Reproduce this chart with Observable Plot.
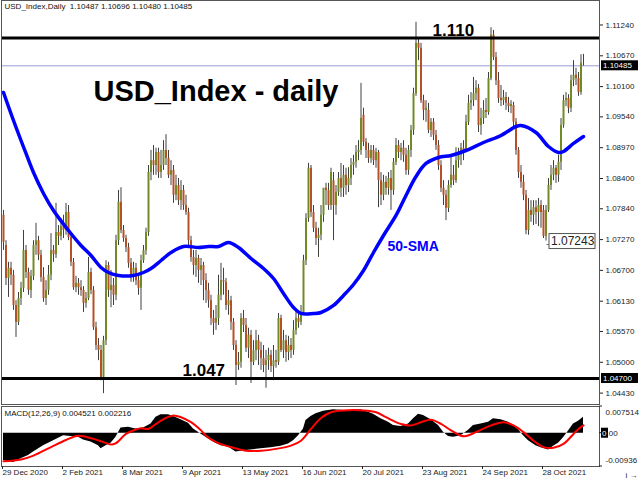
<!DOCTYPE html>
<html><head><meta charset="utf-8">
<script src="https://cdn.jsdelivr.net/npm/d3@7"></script>
<script src="https://cdn.jsdelivr.net/npm/@observablehq/plot@0.6"></script>
<style>
html,body{margin:0;padding:0;background:#fff;}
#chart{width:640px;height:480px;position:relative;overflow:hidden;background:#fff;}
#chart svg{display:block;}
</style></head><body><div id="chart"></div>
<script>
// ---- price data (daily bars, index 0 = 29 Dec 2020) ----
const openP = [1.0772,1.0716,1.0655,1.0674,1.0661,1.0605,1.0574,1.0618,1.0637,1.0707,
1.0666,1.0633,1.0659,1.0716,1.0725,1.0698,1.0657,1.0618,1.0633,1.0661,
1.0707,1.0699,1.0740,1.0733,1.0751,1.0744,1.0777,1.0731,1.0685,1.0638,
1.0646,1.0638,1.0633,1.0609,1.0618,1.0666,1.0633,1.0564,1.0531,1.0522,
1.0472,1.0540,1.0679,1.0633,1.0642,1.0624,1.0725,1.0796,1.0744,1.0729,
1.0712,1.0683,1.0661,1.0674,1.0651,1.0637,1.0688,1.0707,1.0740,1.0851,
1.0873,1.0864,1.0888,1.0851,1.0864,1.0892,1.0877,1.0846,1.0855,1.0809,
1.0827,1.0799,1.0818,1.0790,1.0777,1.0725,1.0694,1.0679,1.0692,1.0670,
1.0679,1.0651,1.0633,1.0614,1.0581,1.0572,1.0581,1.0624,1.0651,1.0648,
1.0605,1.0614,1.0574,1.0531,1.0494,1.0500,1.0581,1.0568,1.0526,1.0550,
1.0500,1.0522,1.0540,1.0522,1.0507,1.0494,1.0503,1.0513,1.0492,1.0503,
1.0500,1.0581,1.0522,1.0540,1.0518,1.0531,1.0522,1.0559,1.0581,1.0574,
1.0592,1.0688,1.0766,1.0859,1.0777,1.0748,1.0729,1.0735,1.0772,1.0822,
1.0818,1.0790,1.0836,1.0790,1.0814,1.0840,1.0822,1.0846,1.0827,1.0840,
1.0864,1.0870,1.0888,1.0892,1.0957,1.0907,1.0892,1.0877,1.0892,1.0873,
1.0888,1.0836,1.0809,1.0833,1.0822,1.0840,1.0818,1.0870,1.0901,1.0888,
1.0896,1.0883,1.0855,1.0892,1.0929,1.0997,1.1090,1.1081,1.0984,1.0966,
1.0966,1.0929,1.0944,1.0920,1.0901,1.0864,1.0822,1.0809,1.0785,1.0827,
1.0846,1.0836,1.0873,1.0883,1.0896,1.0892,1.0944,1.0979,1.0984,1.0997,
1.1007,1.0938,1.0951,1.0966,1.0962,1.1025,1.1105,1.1064,1.1021,1.0988,
1.0984,1.0990,1.0979,1.0973,1.0975,1.0944,1.0892,1.0851,1.0833,1.0809,
1.0744,1.0781,1.0772,1.0786,1.0777,1.0790,1.0781,1.0733,1.0781,1.0827,
1.0846,1.0859,1.0846,1.0870,1.0938,1.0984,1.0988,1.0970,1.1021,1.1031,
1.1025,1.0999,1.10487];
const highP = [1.0781,1.0725,1.0685,1.0685,1.0670,1.0614,1.0629,1.0648,1.0744,1.0716,
1.0674,1.0670,1.0725,1.0757,1.0733,1.0707,1.0675,1.0651,1.0679,1.0738,
1.0716,1.0794,1.0753,1.0766,1.0772,1.0794,1.0790,1.0740,1.0692,1.0659,
1.0655,1.0651,1.0640,1.0629,1.0694,1.0674,1.0640,1.0574,1.0544,1.0531,
1.0548,1.0688,1.0685,1.0670,1.0655,1.0735,1.0818,1.0823,1.0753,1.0735,
1.0720,1.0692,1.0685,1.0683,1.0661,1.0698,1.0716,1.0748,1.0864,1.0892,
1.0901,1.0896,1.0896,1.0892,1.0910,1.0921,1.0892,1.0873,1.0864,1.0846,
1.0840,1.0836,1.0827,1.0809,1.0785,1.0733,1.0707,1.0707,1.0698,1.0692,
1.0685,1.0664,1.0646,1.0624,1.0596,1.0605,1.0661,1.0683,1.0674,1.0655,
1.0633,1.0622,1.0581,1.0540,1.0518,1.0590,1.0596,1.0581,1.0563,1.0559,
1.0540,1.0559,1.0550,1.0537,1.0531,1.0522,1.0526,1.0522,1.0531,1.0522,
1.0590,1.0587,1.0559,1.0550,1.0548,1.0544,1.0577,1.0596,1.0596,1.0605,
1.0698,1.0775,1.0868,1.0864,1.0790,1.0759,1.0748,1.0790,1.0812,1.0831,
1.0831,1.0859,1.0851,1.0827,1.0851,1.0868,1.0864,1.0859,1.0860,1.0877,
1.0883,1.0901,1.0910,1.1016,1.0970,1.0914,1.0905,1.0901,1.0901,1.0896,
1.0892,1.0851,1.0846,1.0844,1.0851,1.0855,1.0877,1.0914,1.0910,1.0905,
1.0910,1.0896,1.0901,1.0938,1.1007,1.1129,1.1099,1.1090,1.0994,1.0984,
1.0979,1.0951,1.0951,1.0929,1.0910,1.0873,1.0836,1.0818,1.0836,1.0879,
1.0864,1.0897,1.0896,1.0905,1.0910,1.0957,1.0994,1.0999,1.1027,1.1021,
1.1014,1.0970,1.0984,1.0988,1.1036,1.1119,1.1114,1.1073,1.1036,1.1012,
1.1003,1.0999,1.0990,1.0984,1.0981,1.0951,1.0897,1.0864,1.0846,1.0818,
1.0803,1.0799,1.0799,1.0799,1.0803,1.0799,1.0790,1.0790,1.0840,1.0864,
1.0873,1.0864,1.0883,1.0951,1.0994,1.0999,1.0995,1.1031,1.1058,1.1044,
1.1036,1.1069,1.10696];
const lowP = [1.0707,1.0642,1.0620,1.0642,1.0596,1.0546,1.0568,1.0605,1.0629,1.0655,
1.0624,1.0618,1.0651,1.0698,1.0688,1.0648,1.0611,1.0605,1.0624,1.0651,
1.0685,1.0692,1.0716,1.0725,1.0729,1.0735,1.0725,1.0677,1.0633,1.0629,
1.0624,1.0622,1.0592,1.0600,1.0614,1.0625,1.0559,1.0522,1.0503,1.0466,
1.0442,1.0531,1.0620,1.0601,1.0605,1.0614,1.0716,1.0738,1.0722,1.0703,
1.0674,1.0648,1.0648,1.0642,1.0624,1.0596,1.0683,1.0698,1.0733,1.0836,
1.0846,1.0846,1.0840,1.0840,1.0855,1.0864,1.0840,1.0827,1.0794,1.0799,
1.0790,1.0781,1.0781,1.0772,1.0716,1.0685,1.0661,1.0657,1.0646,1.0642,
1.0614,1.0609,1.0600,1.0568,1.0550,1.0559,1.0568,1.0614,1.0624,1.0596,
1.0587,1.0559,1.0522,1.0457,1.0485,1.0489,1.0555,1.0518,1.0507,1.0461,
1.0494,1.0503,1.0494,1.0485,1.0481,1.0452,1.0485,1.0481,1.0466,1.0489,
1.0494,1.0518,1.0507,1.0500,1.0503,1.0507,1.0513,1.0550,1.0563,1.0568,
1.0587,1.0679,1.0759,1.0768,1.0740,1.0716,1.0694,1.0725,1.0759,1.0790,
1.0781,1.0781,1.0725,1.0772,1.0807,1.0805,1.0805,1.0809,1.0814,1.0827,
1.0846,1.0859,1.0873,1.0883,1.0899,1.0877,1.0868,1.0868,1.0864,1.0859,
1.0786,1.0790,1.0799,1.0809,1.0809,1.0781,1.0809,1.0864,1.0877,1.0873,
1.0870,1.0846,1.0846,1.0879,1.0920,1.0992,1.1058,1.0979,1.0947,1.0944,
1.0923,1.0916,1.0910,1.0892,1.0855,1.0814,1.0790,1.0762,1.0777,1.0822,
1.0827,1.0831,1.0859,1.0864,1.0873,1.0888,1.0938,1.0966,1.0973,1.0984,
1.0925,1.0920,1.0940,1.0951,1.0957,1.1021,1.1058,1.1012,1.0979,1.0973,
1.0975,1.0966,1.0962,1.0960,1.0936,1.0883,1.0840,1.0822,1.0799,1.0736,
1.0735,1.0759,1.0753,1.0755,1.0751,1.0748,1.0729,1.07243,1.0777,1.0818,
1.0836,1.0831,1.0833,1.0855,1.0933,1.0973,1.0960,1.0962,1.1010,1.1012,
1.0992,1.0994,1.10480];
const closeP = [1.0722,1.0655,1.0674,1.0661,1.0605,1.0574,1.0618,1.0637,1.0707,1.0666,
1.0633,1.0659,1.0716,1.0725,1.0698,1.0657,1.0618,1.0633,1.0661,1.0707,
1.0699,1.0740,1.0733,1.0751,1.0744,1.0777,1.0731,1.0685,1.0638,1.0646,
1.0638,1.0633,1.0609,1.0618,1.0666,1.0633,1.0564,1.0531,1.0522,1.0472,
1.0540,1.0679,1.0633,1.0642,1.0624,1.0725,1.0796,1.0744,1.0729,1.0712,
1.0683,1.0661,1.0674,1.0651,1.0637,1.0688,1.0707,1.0740,1.0851,1.0873,
1.0864,1.0888,1.0851,1.0864,1.0892,1.0877,1.0846,1.0855,1.0809,1.0827,
1.0799,1.0818,1.0790,1.0777,1.0725,1.0694,1.0679,1.0692,1.0670,1.0679,
1.0651,1.0633,1.0614,1.0581,1.0572,1.0581,1.0624,1.0651,1.0648,1.0605,
1.0614,1.0574,1.0531,1.0494,1.0500,1.0581,1.0568,1.0526,1.0550,1.0500,
1.0522,1.0540,1.0522,1.0507,1.0494,1.0503,1.0513,1.0492,1.0503,1.0500,
1.0581,1.0522,1.0540,1.0518,1.0531,1.0522,1.0559,1.0581,1.0574,1.0592,
1.0688,1.0766,1.0859,1.0777,1.0748,1.0729,1.0735,1.0772,1.0822,1.0818,
1.0790,1.0851,1.0790,1.0814,1.0840,1.0822,1.0846,1.0827,1.0840,1.0864,
1.0870,1.0888,1.0892,1.0951,1.0907,1.0892,1.0877,1.0892,1.0873,1.0888,
1.0836,1.0809,1.0833,1.0822,1.0840,1.0818,1.0870,1.0901,1.0888,1.0896,
1.0883,1.0855,1.0892,1.0929,1.0997,1.1090,1.1081,1.0984,1.0966,1.0970,
1.0929,1.0944,1.0920,1.0901,1.0864,1.0822,1.0809,1.0785,1.0827,1.0846,
1.0836,1.0873,1.0883,1.0896,1.0892,1.0944,1.0979,1.0984,1.0997,1.1007,
1.0938,1.0951,1.0966,1.0962,1.1025,1.1105,1.1064,1.1021,1.0988,1.0984,
1.0990,1.0979,1.0973,1.0977,1.0944,1.0892,1.0851,1.0833,1.0809,1.0744,
1.0781,1.0772,1.0786,1.0777,1.0790,1.0777,1.0733,1.0781,1.0827,1.0846,
1.0859,1.0846,1.0870,1.0938,1.0984,1.0988,1.0970,1.1021,1.1031,1.1025,
1.0999,1.1053,1.10485];

// 50-period SMA, read at bar indices
const smaIdx = [0,4,9,12,16,20,26,31,35,39,42,46,52,56,59,63,67,72,78,82,86,90,94,99,104,108,112,116,119,124,127,132,136,140,144,148,152,157,161,165,169,174,179,185,192,199,205,207,213,218,222,224,228,232];
const smaVal = [1.09991,1.09473,1.08863,1.08511,1.08123,1.07808,1.07438,1.07161,1.06976,1.06754,1.06661,1.06606,1.06606,1.06661,1.06735,1.06883,1.07031,1.07142,1.07124,1.07142,1.07142,1.07216,1.07124,1.06920,1.06735,1.06550,1.06273,1.06014,1.05903,1.05903,1.05921,1.06051,1.06236,1.06439,1.06698,1.07031,1.07346,1.07716,1.08086,1.08437,1.08678,1.08789,1.08826,1.08918,1.09066,1.09196,1.09362,1.09381,1.09251,1.08992,1.08881,1.08900,1.09048,1.09177];

// MACD(12,26,9): main (histogram) and signal, read at bar indices
const histIdx = [0,4,7,10,12,16,20,24,27,30,32,35,38,39,41,43,45,47,50,53,56,59,61,63,66,68,71,74,76,79,82,84,87,90,93,96,99,103,107,111,114,116,118,120,121,123,125,128,132,136,140,143,146,148,151,154,156,159,162,164,166,168,171,174,176,178,180,183,186,188,191,194,196,199,202,204,206,208,210,213,215,218,220,222,224,226,228,230,232];
const histVal = [-0.0077,-0.0082,-0.0072,-0.0063,-0.0053,-0.0035,-0.0021,-0.0007,-0.0009,-0.0011,-0.0019,-0.0025,-0.0035,-0.0044,-0.0035,-0.0028,-0.0011,0.0015,0.0017,0.0012,0.0015,0.0026,0.0045,0.0052,0.0052,0.0047,0.0038,0.0028,0.0012,-0.0002,-0.0016,-0.0025,-0.0035,-0.0039,-0.0053,-0.0049,-0.0047,-0.0044,-0.0041,-0.0037,-0.0030,-0.0021,-0.0007,0.0012,0.0036,0.0047,0.0055,0.0062,0.0066,0.0064,0.0064,0.0066,0.0059,0.0053,0.0041,0.0031,0.0022,0.0019,0.0026,0.0041,0.0053,0.0050,0.0038,0.0022,0.0003,-0.0009,-0.0011,-0.0007,0.0008,0.0022,0.0026,0.0031,0.0041,0.0038,0.0031,0.0022,0.0010,-0.0007,-0.0021,-0.0035,-0.0041,-0.0047,-0.0037,-0.0028,-0.0013,0.0006,0.0026,0.0034,0.004521];
const sigIdx = [0,7,12,19,25,30,36,40,43,45,49,52,55,58,61,65,68,71,75,79,81,85,91,97,103,109,115,119,123,127,131,136,144,149,153,159,163,167,171,175,179,183,185,189,195,200,204,208,212,216,220,224,228,230,232];
const sigVal = [-0.0079,-0.0074,-0.0063,-0.0039,-0.0019,-0.0007,-0.0016,-0.0025,-0.0032,-0.0028,-0.0002,0.0008,0.0014,0.0012,0.0026,0.0043,0.0050,0.0045,0.0031,0.0008,-0.0007,-0.0025,-0.0039,-0.0049,-0.0049,-0.0044,-0.0035,-0.0021,0.0012,0.0043,0.0059,0.0064,0.0064,0.0059,0.0045,0.0026,0.0022,0.0031,0.0038,0.0026,0.0008,-0.0007,-0.0008,0.0003,0.0022,0.0031,0.0022,0.0003,-0.0021,-0.0039,-0.0041,-0.0030,-0.0002,0.0012,0.002216];

// axis labels
const priceTicks = [1.11240,1.10670,1.10100,1.09540,1.08970,1.08400,1.07840,1.07270,1.06700,1.06130,1.05570,1.05000,1.04430];
const dateTicks = [0,24,48,72,96,120,144,168,192,216];
const dateLabels = ["29 Dec 2020","2 Feb 2021","8 Mar 2021","9 Apr 2021","13 May 2021","16 Jun 2021","20 Jul 2021","23 Aug 2021","24 Sep 2021","28 Oct 2021"];
const macdTicks = [0.007514, 0, -0.00936];
const macdTickLabels = ["0.007514", "0.00", "-0.00936"];
const levels = [1.110, 1.047];
const levelLabels = ["1.110", "1.047"];
const lastPrice = 1.10485;
const swingLow = 1.07243;
const infoText = "USD_Index,Daily  1.10487 1.10696 1.10480 1.10485";
const macdText = "MACD(12,26,9) 0.004521 0.002216";

const bars = closeP.map((c, i) => ({i, open: openP[i], high: highP[i], low: lowP[i], close: c}));
const sma = smaIdx.map((i, k) => ({i, v: smaVal[k]}));
const hist = histIdx.map((i, k) => ({i, v: histVal[k]}));
const sig = sigIdx.map((i, k) => ({i, v: sigVal[k]}));

const FONT = "'Liberation Sans', Arial, sans-serif";
const xDomain = [-0.8, 238.4];

const main = Plot.plot({
  width: 640, height: 405,
  marginLeft: 1, marginRight: 41, marginTop: 0, marginBottom: 0,
  style: {fontFamily: FONT, fontSize: "8px", color: "#222", background: "white", overflow: "visible"},
  x: {domain: xDomain, axis: null},
  y: {domain: [1.042005, 1.11693], axis: null},
  marks: [
    Plot.ruleY([lastPrice], {stroke: "#9c9cd2", strokeWidth: 1}),
    Plot.ruleX(bars, {x: "i", y1: "low", y2: "high", stroke: "#404040", strokeWidth: 1}),
    Plot.ruleX(bars, {x: "i", y1: "open", y2: "close", strokeWidth: 2,
      stroke: d => d.close >= d.open ? "#728a24" : "#b65028"}),
    Plot.ruleY(levels, {stroke: "black", strokeWidth: 3}),
    Plot.line(sma, {x: "i", y: "v", stroke: "#0000ff", strokeWidth: 3.5, curve: "catmull-rom"}),
    Plot.frame({stroke: "#555", insetBottom: 1}),
    Plot.axisY(priceTicks, {anchor: "right", tickSize: 3, tickPadding: 3, tickFormat: d => d.toFixed(5), fontSize: 8}),
    Plot.text([infoText], {frameAnchor: "top-left", dx: 3, dy: 3, lineAnchor: "top", textAnchor: "start", fontSize: 8, fill: "#111"}),
    Plot.text(["USD_Index - daily"], {frameAnchor: "top-left", dx: 92, dy: 100, lineAnchor: "bottom", textAnchor: "start", fontSize: 29, fontWeight: "bold", fill: "black"}),
    Plot.text([levelLabels[0]], {x: 171.6, y: levels[0], dy: -2, lineAnchor: "bottom", textAnchor: "start", fontSize: 17, fontWeight: "bold", fill: "black"}),
    Plot.text([levelLabels[1]], {x: 71.6, y: levels[1], dy: -3, lineAnchor: "bottom", textAnchor: "start", fontSize: 17, fontWeight: "bold", fill: "black"}),
    Plot.text(["50-SMA"], {x: 153.6, y: 1.0705, lineAnchor: "bottom", textAnchor: "start", fontSize: 14, fontWeight: "bold", fill: "#0000ff"})
  ]
});

const macd = Plot.plot({
  width: 640, height: 75,
  marginLeft: 1, marginRight: 41, marginTop: 1, marginBottom: 14,
  style: {fontFamily: FONT, fontSize: "8px", color: "#222", background: "white", overflow: "visible"},
  x: {domain: xDomain, axis: null},
  y: {domain: [-0.00936, 0.007514], axis: null},
  marks: [
    Plot.areaY(hist, {x: "i", y: "v", fill: "black"}),
    Plot.line(sig, {x: "i", y: "v", stroke: "#ff0000", strokeWidth: 2, curve: "catmull-rom"}),
    Plot.frame({stroke: "#555"}),
    Plot.axisX(dateTicks, {anchor: "bottom", tickSize: 3, tickPadding: 0, textAnchor: "start", dx: -1, fontSize: 8,
      tickFormat: d => dateLabels[dateTicks.indexOf(d)]}),
    Plot.text([macdTickLabels[0]], {frameAnchor: "top-right", dx: 6, dy: 6, textAnchor: "start", lineAnchor: "middle", fontSize: 8, fill: "#222"}),
    Plot.text([macdTickLabels[2]], {frameAnchor: "bottom-right", dx: 6, dy: -6, textAnchor: "start", lineAnchor: "middle", fontSize: 8, fill: "#222"}),
    Plot.text([macdText], {frameAnchor: "top-left", dx: 3, dy: 4, lineAnchor: "top", textAnchor: "start", fontSize: 8, fill: "#111"})
  ]
});

const host = document.getElementById("chart");
host.appendChild(main);
host.appendChild(macd);

// price tags on the right-hand axis
const sx = main.scale("x"), sy = main.scale("y");
const xr = sx.apply(xDomain[1]);
const gm = d3.select(main).append("g").attr("font-family", FONT).attr("font-size", 8).attr("text-anchor", "start");
function tag(g, y, label) {
  g.append("rect").attr("x", xr + 2).attr("y", y - 5).attr("width", 37).attr("height", 10).attr("fill", "black");
  g.append("text").attr("x", xr + 4).attr("y", y).attr("dy", "0.35em").attr("text-anchor", "start").attr("fill", "white").text(label);
}
tag(gm, sy.apply(lastPrice), lastPrice.toFixed(5));
tag(gm, sy.apply(levels[1]), levels[1].toFixed(5));

// swing low label box
const lx = sx.apply(219.2), ly = sy.apply(swingLow);
gm.append("line").attr("x1", sx.apply(217) + 1).attr("x2", lx - 2).attr("y1", ly + 4).attr("y2", ly + 4).attr("stroke", "#777");
gm.append("rect").attr("x", lx - 2).attr("y", ly - 7).attr("width", 46).attr("height", 15).attr("fill", "white").attr("stroke", "#555");
gm.append("text").attr("x", lx).attr("y", ly).attr("dy", "0.36em").attr("text-anchor", "start").attr("font-size", 12).attr("fill", "#222").text(swingLow.toFixed(5));

// MACD axis ticks and zero level tag
const my = macd.scale("y");
const gz = d3.select(macd).append("g").attr("font-family", FONT).attr("font-size", 8).attr("text-anchor", "start");
macdTicks.forEach(v => {
  const yy = my.apply(v);
  gz.append("line").attr("x1", xr).attr("x2", xr + 3).attr("y1", yy).attr("y2", yy).attr("stroke", "#222");
});
const zy = my.apply(macdTicks[1]);
gz.append("rect").attr("x", xr + 2).attr("y", zy - 5).attr("width", 7).attr("height", 10).attr("fill", "black");
const zt = gz.append("text").attr("x", xr + 3).attr("y", zy).attr("dy", "0.35em").attr("text-anchor", "start");
zt.append("tspan").attr("fill", "white").text(macdTickLabels[1].slice(0, 1));
zt.append("tspan").attr("fill", "#222").text(macdTickLabels[1].slice(1));
</script>
</body></html>
